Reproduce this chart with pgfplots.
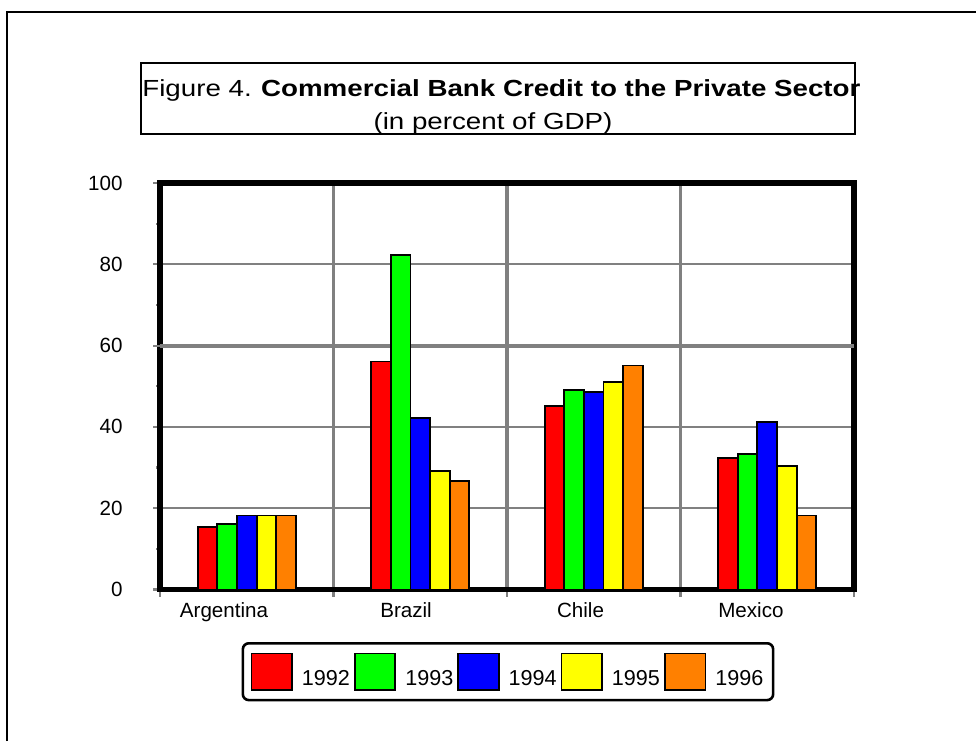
\documentclass[border=0pt]{standalone}
\usepackage{fontspec}
\setmainfont{Liberation Sans}
\newfontfamily\titlefont[FakeStretch=1.19]{Liberation Sans}
\usepackage{pgfplots}
\pgfplotsset{compat=1.18}
\definecolor{gridgray}{RGB}{128,128,128}
\definecolor{barorange}{RGB}{255,128,0}
\definecolor{bargreen}{RGB}{0,255,0}
\definecolor{barblue}{RGB}{0,0,255}
\definecolor{baryellow}{RGB}{255,255,0}
\definecolor{barred}{RGB}{255,0,0}

\begin{document}
\begin{tikzpicture}
\useasboundingbox (0,0) rectangle (488pt,370.5pt);
\draw[line width=1pt] (3.5pt,0pt) -- (3.5pt,364.5pt) -- (490pt,364.5pt);
\draw[line width=1pt] (70.5pt,303.5pt) rectangle (427.5pt,339pt);
\node[anchor=base west, inner sep=0pt] at (71pt,322.5pt) {\titlefont\fontsize{11.65}{14}\selectfont Figure 4.\hspace{0.4em}\bfseries Commercial Bank Credit to the Private Sector};
\node[anchor=base, inner sep=0pt] at (246.5pt,305.5pt) {\titlefont\fontsize{11.65}{14}\selectfont (in percent of GDP)};
\begin{axis}[
  at={(80pt,75.75pt)}, anchor=south west,
  scale only axis, width=347pt, height=203.25pt,
  xmin=-0.5, xmax=3.5, ymin=0, ymax=100,
  ybar=0pt, bar width=9.8pt,
  axis line style={line width=2.8pt, black},
  xtick={-0.5,0.5,1.5,2.5,3.5}, xticklabels={},
  ytick={0,20,40,60,80,100},
  minor y tick num=1,
  tick align=outside, tick pos=left,
  major tick length=3.5pt, minor tick length=2pt,
  tick style={gridgray, line width=1.1pt},
  xmajorgrids, ymajorgrids,
  x grid style={gridgray, line width=1.6pt},
  y grid style={gridgray, line width=1.15pt},
  extra y ticks={60}, extra y tick labels={},
  extra y tick style={y grid style={gridgray, line width=2pt}},
  extra x ticks={-0.131,0.918,1.924,2.906},
  extra x tick labels={Argentina,Brazil,Chile,Mexico},
  extra x tick style={major tick length=0pt, grid=none, xticklabel style={anchor=base, yshift=-14pt}},
  tick label style={font=\fontsize{10.3}{12}\selectfont},
  /pgf/number format/assume math mode=true,
  yticklabel style={anchor=east, inner sep=0pt, xshift=-15pt},
  legend columns=5,
  legend style={at={(0.5,0)}, anchor=north, yshift=-26.25pt, xshift=0.5pt, draw=black, line width=1.3pt, rounded corners=3pt, inner xsep=3.9pt, inner ysep=4.6pt, font=\fontsize{10.8}{12}\selectfont, nodes={inner sep=1pt}, /tikz/every odd column/.style={column sep=3.5pt}, /tikz/every even column/.style={column sep=1pt}},
  legend image code/.code={\draw[#1, sharp corners, line width=0.9pt, draw=black] (0pt,-5.45pt) rectangle (20.25pt,12.85pt);},
]
\addplot[fill=barred, draw=black, line width=0.95pt] coordinates {(0,15.3) (1,56.1) (2,45.2) (3,32.4)};
\addplot[fill=bargreen, draw=black, line width=0.95pt] coordinates {(0,16.2) (1,82.2) (2,49.0) (3,33.3)};
\addplot[fill=barblue, draw=black, line width=0.95pt] coordinates {(0,18.2) (1,42.3) (2,48.6) (3,41.1)};
\addplot[fill=baryellow, draw=black, line width=0.95pt] coordinates {(0,18.2) (1,29.1) (2,51.1) (3,30.4)};
\addplot[fill=barorange, draw=black, line width=0.95pt] coordinates {(0,18.2) (1,26.6) (2,55.1) (3,18.2)};
\legend{1992,1993,1994,1995,1996}
\end{axis}
\end{tikzpicture}
\end{document}
